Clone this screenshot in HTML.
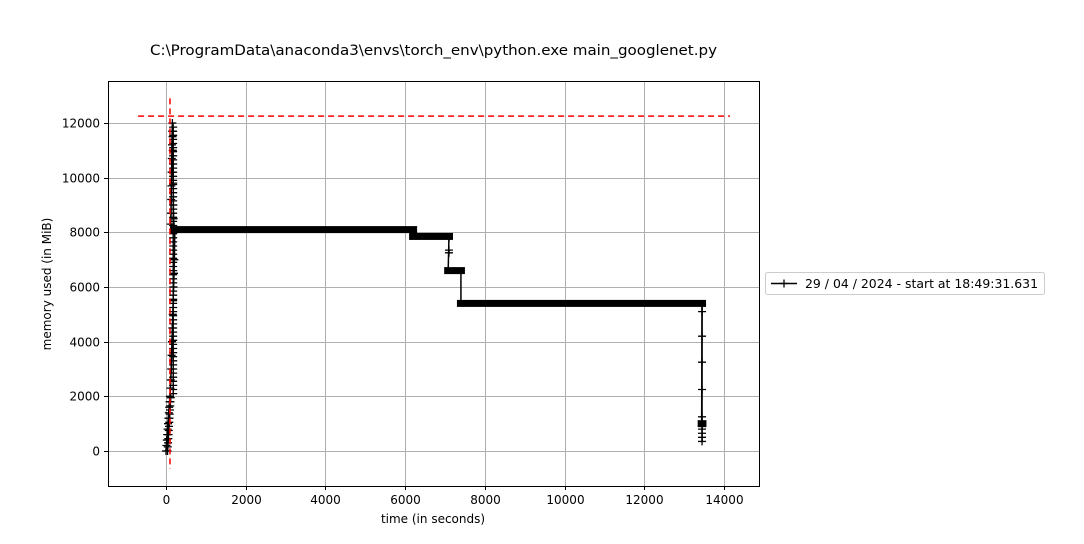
<!DOCTYPE html>
<html><head><meta charset="utf-8"><style>
body{margin:0;background:#fff;font-family:"DejaVu Sans",sans-serif;}
svg text{font-family:"DejaVu Sans","Liberation Sans",sans-serif;font-size:12px;fill:#000;}
</style></head><body>
<svg id="c" width="1084" height="540" xmlns="http://www.w3.org/2000/svg">
<rect width="1084" height="540" fill="#fff"/>
<text x="150" y="55" textLength="567" lengthAdjust="spacingAndGlyphs" style="font-size:14.4px">C:\ProgramData\anaconda3\envs\torch_env\python.exe main_googlenet.py</text>
<g id="grid"></g>
<g id="marks"></g>
<rect x="108.5" y="81.5" width="651" height="405" fill="none" stroke="#000"/>
<g id="ticks"></g>
<text x="433" y="523" text-anchor="middle">time (in seconds)</text>
<text transform="translate(51,284) rotate(-90)" text-anchor="middle">memory used (in MiB)</text>
<g>
<rect x="765.5" y="272.5" width="279" height="22" rx="2" fill="#fff" stroke="#ccc"/>
<line x1="771" y1="283.5" x2="797" y2="283.5" stroke="#000" stroke-width="1.5"/>
<path d="M780,283.5h8M784,279.5v8" stroke="#000" stroke-width="1.3"/>
<text x="805" y="288" textLength="233" lengthAdjust="spacingAndGlyphs">29 / 04 / 2024 - start at 18:49:31.631</text>
</g>
</svg>
<script>
const xTicks=[0,2000,4000,6000,8000,10000,12000,14000];
const yTicks=[0,2000,4000,6000,8000,10000,12000];
// plateaus: start time, end time, value
const platStart=[200,6200,7080,7400,13440];
const platEnd=[6200,7100,7400,13450,13460];
const platVal=[8100,7850,6600,5400,1000];
// spike samples
const spikeT=[0,10,20,30,40,50,60,70,80,90,100,110,120,130,140,150,160,170,180,190,200,210,220,120,125,130,135,140,145,150,155,160,165,170,175,180,185,190,200];
const spikeV=[0,200,400,600,800,1000,1200,1400,1600,1800,2000,2300,2600,3000,3500,4000,4500,5000,5500,6000,6500,7000,8000,8300,8700,9200,9700,10200,10700,11200,11700,12000,11500,11000,10500,9800,9000,8500,8200];
// drop samples at end
const dropT=[7100,7100,7100,13450,13450,13450,13450,13450,13450,13450,13450,13450];
const dropV=[7350,7250,7800,5100,4200,3250,2250,1250,800,650,500,350];
const redHVal=12250, redVT=100;
const X=v=>166+v*0.039855, Y=v=>451-v*0.027333;
const NS='http://www.w3.org/2000/svg';
function mk(t,a,p){const e=document.createElementNS(NS,t);for(const k in a)e.setAttribute(k,a[k]);p.appendChild(e);return e;}
const grid=document.getElementById('grid'),ticks=document.getElementById('ticks'),marks=document.getElementById('marks');
xTicks.forEach(t=>{const x=Math.round(X(t))+.5;
 const g=mk('line',{x1:x,x2:x,y1:81,y2:486,stroke:'#b0b0b0','stroke-width':1},grid);
 
 
 mk('line',{x1:x,x2:x,y1:486,y2:490,stroke:'#000'},ticks);
 const l=mk('text',{x:x,y:504,'text-anchor':'middle'},ticks);l.textContent=t;
 
 });
yTicks.forEach(t=>{const y=Math.round(Y(t))+.5;
 const g=mk('line',{x1:108,x2:759,y1:y,y2:y,stroke:'#b0b0b0','stroke-width':1},grid);
 
 
 mk('line',{x1:104,x2:108,y1:y,y2:y,stroke:'#000'},ticks);
 const l=mk('text',{x:100,y:y+4,'text-anchor':'end'},ticks);l.textContent=t;
 
 });
let pts=[];spikeT.forEach((t,i)=>pts.push(X(t)+','+Y(spikeV[i])));
platStart.forEach((s,i)=>{pts.push(X(s)+','+Y(platVal[i]));pts.push(X(platEnd[i])+','+Y(platVal[i]));});
const pl=mk('polyline',{points:pts.join(' '),fill:'none',stroke:'#000','stroke-width':1.5},marks);


platStart.forEach((s,i)=>{const r=mk('rect',{x:X(s)-4,y:Y(platVal[i])-3.5,width:X(platEnd[i])-X(s)+8,height:7,fill:'#000'},marks);
 
 });
function plus(x,y){const g=mk('path',{d:`M${x-4},${y}h8M${x},${y-4}v8`,stroke:'#000','stroke-width':1.3},marks);
 
 }
spikeT.forEach((t,i)=>plus(X(t),Y(spikeV[i])));
for(let v=0;v<12000;v+=150){plus(X(140+(v<2000?-100+v/25:40)),Y(v));}
dropT.forEach((t,i)=>{plus(X(t),Y(dropV[i]));});
mk('line',{x1:X(13450),x2:X(13450),y1:Y(5400),y2:Y(350),stroke:'#000','stroke-width':1.5},marks);
const rh=mk('line',{x1:X(-700),x2:X(14150),y1:Y(redHVal),y2:Y(redHVal),stroke:'red','stroke-width':1.5,'stroke-dasharray':'6,4'},marks);


const rv=mk('line',{x1:X(redVT),x2:X(redVT),y1:Y(12900),y2:Y(-650),stroke:'red','stroke-width':1.5,'stroke-dasharray':'6,4'},marks);


</script>
</body></html>
